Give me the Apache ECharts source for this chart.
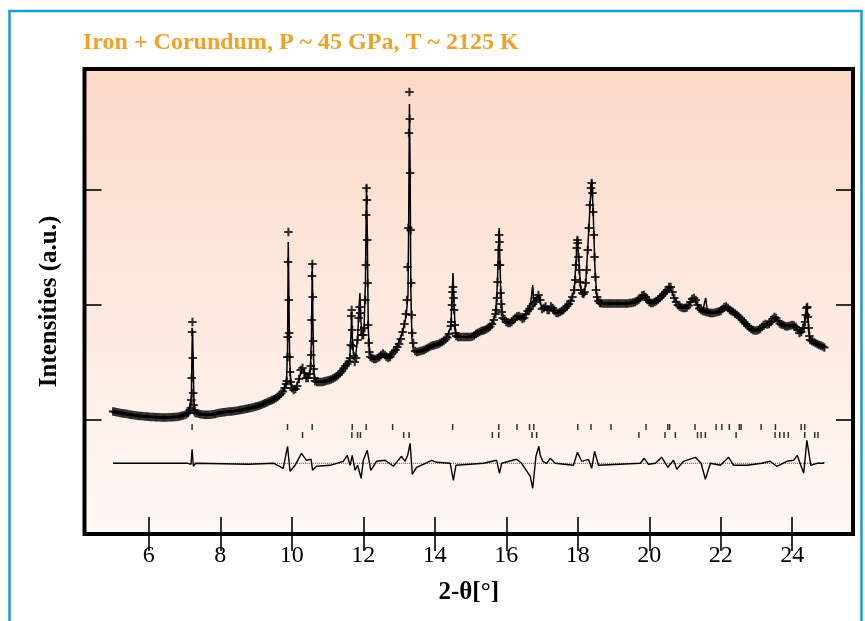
<!DOCTYPE html>
<html>
<head>
<meta charset="utf-8">
<title>Iron + Corundum, P ~ 45 GPa, T ~ 2125 K</title>
<script src="https://cdn.jsdelivr.net/npm/echarts@6.0.0/dist/echarts.min.js"></script>
<style>
  html, body { margin: 0; padding: 0; background: #fff; }
  #chart { width: 865px; height: 621px; }
</style>
</head>
<body>
<div id="chart"></div>
<script>
// observed profile, [2-theta, intensity a.u.]
const obsPoints = [
  [5.00,122.5],[5.05,122.2],[5.10,121.8],[5.15,121.5],[5.20,121.1],[5.25,120.8],[5.30,120.5],[5.35,120.2],[5.40,119.9],[5.45,119.6],
  [5.50,119.3],[5.55,119.0],[5.60,118.8],[5.65,118.5],[5.70,118.3],[5.75,118.1],[5.80,117.9],[5.85,117.7],[5.90,117.5],[5.95,117.4],
  [6.00,117.2],[6.05,117.1],[6.10,117.0],[6.15,116.9],[6.20,116.8],[6.25,116.7],[6.30,116.7],[6.35,116.6],[6.40,116.6],[6.45,116.6],
  [6.50,116.6],[6.55,116.7],[6.60,116.7],[6.65,116.8],[6.70,117.0],[6.75,117.1],[6.80,117.3],[6.85,117.6],[6.90,118.0],[6.95,118.4],
  [7.00,119.0],[7.05,119.8],[7.10,121.0],[7.15,124],[7.17,126],[7.19,134],[7.20,156],[7.21,202],[7.22,212],[7.23,176],
  [7.24,141],[7.25,129],[7.27,123],[7.30,121],
  [7.35,120.7],[7.40,120.2],[7.45,119.8],[7.50,119.5],[7.55,119.3],[7.60,119.2],[7.65,119.2],[7.70,119.3],[7.75,119.5],[7.80,119.8],
  [7.85,120.1],[7.90,120.5],[7.95,120.9],[8.00,121.3],[8.05,121.6],[8.10,121.8],[8.15,122.0],[8.20,122.2],[8.25,122.4],[8.30,122.5],
  [8.35,122.7],[8.40,123.0],[8.45,123.3],[8.50,123.6],[8.55,123.9],[8.60,124.2],[8.65,124.5],[8.70,124.9],[8.75,125.3],[8.80,125.7],
  [8.85,126.1],[8.90,126.5],[8.95,126.9],[9.00,127.4],[9.05,128.0],[9.10,128.6],[9.15,129.2],[9.20,130.0],[9.25,130.8],[9.30,131.6],
  [9.35,132.4],[9.40,133.2],[9.45,134.0],[9.50,134.8],[9.55,135.8],[9.60,137.0],[9.65,138.5],[9.70,140.2],[9.75,142.5],[9.80,146],
  [9.84,150],[9.86,153],[9.875,177],[9.885,197],[9.895,272],[9.905,302],[9.915,234],[9.925,201],[9.935,177],[9.95,162],[9.97,152],
  [10.00,146],[10.05,144],[10.10,145],[10.15,148],[10.20,155],[10.25,164],[10.30,166],[10.35,161],[10.40,156],[10.45,156],[10.50,160],
  [10.53,168],[10.545,179],[10.555,214],[10.565,258],[10.575,270],[10.585,237],[10.595,193],[10.61,165],[10.63,156],
  [10.65,153],[10.70,152],[10.75,152],[10.80,152],[10.85,152],[10.90,152.5],[10.95,153],[11.00,153.5],[11.05,154],[11.10,154.5],
  [11.15,155.5],[11.20,156.5],[11.25,157.5],[11.30,159],[11.35,161],[11.40,163],[11.45,165.5],[11.50,168],[11.55,170],[11.60,172.5],
  [11.63,176],[11.65,189],[11.665,218],[11.675,224],[11.69,204],[11.705,188],[11.73,178],[11.76,172],[11.80,176],[11.84,194],
  [11.87,216],[11.895,227],[11.915,221],[11.94,204],[11.97,199],[12.00,199],[12.03,206],[12.055,234],[12.07,269],[12.08,319],
  [12.09,346],[12.10,334],[12.11,294],[12.12,251],[12.135,209],[12.15,191],[12.17,182],[12.20,177],
  [12.25,176],[12.30,175],[12.35,175],[12.40,176],[12.45,177],[12.50,179],[12.55,180.5],[12.60,179],[12.65,177],[12.70,176],
  [12.75,177],[12.80,180],[12.85,182],[12.90,184],[12.95,187],[13.00,190],[13.05,195],[13.10,202],[13.15,210],[13.19,220],
  [13.22,234],[13.24,267],[13.26,306],[13.275,401],[13.29,442],[13.30,415],[13.31,361],[13.325,304],[13.34,251],[13.355,219],
  [13.37,201],[13.40,191],[13.45,183],[13.50,182],[13.55,182.5],[13.60,183],[13.65,183.5],[13.70,184],[13.75,185],[13.80,186],
  [13.85,187],[13.90,188],[13.95,188.5],[14.00,189],[14.05,189.5],[14.10,190],[14.15,191],[14.20,192],[14.25,193],[14.30,194.5],
  [14.35,196.5],[14.40,200],[14.45,208],[14.46,212],[14.48,229],[14.495,242],[14.51,247],[14.525,236],[14.54,224],[14.56,209],
  [14.58,201],[14.60,198],[14.65,197],[14.70,197],[14.75,197],[14.80,197],[14.85,197],[14.90,197],[14.95,197],[15.00,197],
  [15.05,197.5],[15.10,198.5],[15.15,200],[15.20,201],[15.25,202],[15.30,203],[15.35,203.5],[15.40,204],[15.45,205],[15.50,206],
  [15.55,207.5],[15.60,210],[15.65,214],[15.70,220],[15.72,224],[15.74,236],[15.755,252],[15.77,269],[15.785,284],[15.80,299],
  [15.81,292],[15.825,269],[15.84,241],[15.855,230],[15.87,222],[15.90,216],[15.95,215],[16.00,212],[16.05,211],[16.10,211],
  [16.15,212],[16.20,214],[16.25,216],[16.30,217.5],[16.35,218],[16.40,217],[16.45,215],[16.50,216],[16.55,220],[16.60,223],
  [16.65,225],[16.70,228],[16.75,230],[16.80,232],[16.85,236],[16.90,239],[16.95,234],[17.00,225],[17.05,226],[17.10,227.5],
  [17.15,224],[17.20,224],[17.25,227.5],[17.30,226],[17.35,223],[17.40,221],[17.45,221],[17.50,222],[17.55,223],[17.60,224],
  [17.65,226],[17.70,228],[17.75,230],[17.80,233],[17.85,237],[17.90,244],[17.93,254],[17.95,269],[17.97,286],[17.99,294],
  [18.00,291],[18.02,277],[18.04,264],[18.06,252],[18.09,244],[18.13,241],[18.16,240],[18.19,242],[18.22,251],[18.25,264],
  [18.28,284],[18.31,306],[18.34,329],[18.37,346],[18.39,351],[18.41,341],[18.43,322],[18.45,299],[18.47,277],[18.49,257],
  [18.51,244],[18.54,237],[18.58,233],[18.62,231],[18.65,231],[18.70,230.5],[18.75,230.5],[18.80,230.5],[18.85,230.5],[18.90,230.5],
  [18.95,230.5],[19.00,230.5],[19.05,230.5],[19.10,230.5],[19.15,230.5],[19.20,230.5],[19.25,230.5],[19.30,230.5],[19.35,230.5],[19.40,230.5],
  [19.45,231],[19.50,231],[19.55,231.5],[19.60,232],[19.65,233],[19.70,234],[19.75,236],[19.80,238.5],[19.85,239],[19.90,237],
  [19.95,234],[20.00,232],[20.05,231],[20.10,231],[20.15,232],[20.20,233],[20.25,234.5],[20.30,236],[20.35,238],[20.40,240],
  [20.45,242],[20.50,244],[20.55,247],[20.60,247],[20.65,242],[20.70,236],[20.75,232],[20.80,229],[20.85,227.5],[20.90,226.5],
  [20.95,226],[21.00,226],[21.05,226.5],[21.10,228.5],[21.15,232],[21.20,235],[21.25,236],[21.30,234],[21.35,229],[21.40,225.5],
  [21.45,224],[21.50,223],[21.55,222.5],[21.60,222],[21.65,221.5],[21.70,221],[21.75,221],[21.80,221],[21.85,221.5],[21.90,222],
  [21.95,222.5],[22.00,223],[22.05,225],[22.10,227],[22.15,227.5],[22.20,226],[22.25,224],[22.30,223],[22.35,222],[22.40,220.5],
  [22.45,219],[22.50,217.5],[22.55,216],[22.60,214],[22.65,212],[22.70,210],[22.75,208],[22.80,206.5],[22.85,205],[22.90,204],
  [22.95,203.5],[23.00,203.5],[23.05,204],[23.10,205],[23.15,207],[23.20,209],[23.25,210],[23.30,209.5],[23.35,210],[23.40,212],
  [23.45,215],[23.50,217],[23.55,216],[23.60,213],[23.65,210.5],[23.70,209.5],[23.75,209],[23.80,208],[23.85,207.5],[23.90,208],
  [23.95,208.5],[24.00,209],[24.05,208.5],[24.10,207],[24.15,204],[24.20,201],[24.25,202],[24.30,206],[24.33,206],[24.36,212],
  [24.38,219],[24.40,226],[24.42,227],[24.44,217],[24.46,206],[24.48,198],[24.50,194],[24.55,193],[24.60,192],[24.65,191],
  [24.70,190],[24.75,189],[24.80,188.5],[24.85,187.5],[24.90,186.5]
]

// calculated profile
const calcPoints = [
  [5.0,122.5],[5.2,121.1],[5.4,119.9],[5.6,118.8],[5.8,117.9],[6.0,117.2],[6.2,116.8],[6.4,116.6],[6.6,116.7],[6.8,117.3],
  [7.0,119.0],[7.1,121],[7.15,123],[7.19,136],[7.21,189],[7.222,205],[7.235,184],[7.26,134],[7.30,121],[7.4,120.2],
  [7.6,119.2],[7.8,119.8],[8.0,121.3],[8.2,122.2],[8.4,123.0],[8.6,124.2],[8.8,125.7],[9.0,127.4],[9.2,130.0],[9.4,133.2],
  [9.6,137.0],[9.75,142.5],[9.85,151],[9.88,184],[9.90,292],[9.92,234],[9.94,174],[9.97,152],[10.0,146],[10.1,145],
  [10.2,155],[10.3,166],[10.4,156],[10.5,160],[10.52,163],[10.55,199],[10.572,271],[10.59,214],[10.62,159],[10.7,152],
  [10.9,152.5],[11.1,154.5],[11.3,159],[11.5,168],[11.62,174],[11.66,204],[11.675,222],[11.69,199],[11.72,182],[11.78,176],
  [11.84,196],[11.88,224],[11.905,241],[11.93,214],[11.97,198],[12.02,204],[12.06,254],[12.09,349],[12.11,304],[12.14,204],
  [12.18,180],[12.3,175],[12.5,179],[12.7,176],[12.9,184],[13.1,202],[13.2,218],[13.25,239],[13.27,314],[13.29,430],
  [13.31,364],[13.33,244],[13.36,196],[13.40,184],[13.5,182],[13.7,184],[13.9,188],[14.1,190],[14.3,194.5],[14.45,207],
  [14.49,244],[14.51,261],[14.53,239],[14.57,204],[14.62,197],[14.8,197],[15.0,197],[15.2,201],[15.4,204],[15.6,210],
  [15.70,220],[15.75,249],[15.80,306],[15.84,249],[15.90,216],[16.0,212],[16.2,214],[16.4,217],[16.55,220],[16.65,226],
  [16.70,236],[16.74,249],[16.77,232],[16.82,232],[16.90,239],[17.0,225],[17.1,227.5],[17.2,224],[17.3,226],[17.4,221],
  [17.6,224],[17.8,233],[17.90,244],[17.95,272],[17.99,297],[18.03,274],[18.08,246],[18.15,238],[18.22,249],[18.30,299],
  [18.36,339],[18.39,354],[18.43,324],[18.48,266],[18.53,239],[18.60,232],[18.8,230.5],[19.0,230.5],[19.2,230.5],[19.4,230.5],
  [19.6,232],[19.75,236],[19.85,239],[19.95,234],[20.1,231],[20.3,236],[20.45,242],[20.57,248],[20.7,236],[20.9,226.5],
  [21.1,228.5],[21.25,236],[21.4,225.5],[21.50,223],[21.55,232],[21.58,236],[21.62,224],[21.8,221],[22.0,223],[22.13,228],
  [22.3,223],[22.5,217.5],[22.7,210],[22.9,204],[23.1,205],[23.3,209.5],[23.5,217],[23.7,209.5],[23.9,208],[24.1,207],
  [24.2,201],[24.32,206],[24.38,222],[24.41,228],[24.44,215],[24.48,198],[24.6,192],[24.8,188.5],[24.9,186.5]
]

// difference (obs - calc), drawn around diffBase
const diffBase = 70.7
const diffPoints = [
  [5.00,0],[7.09,0],[7.18,-1],[7.21,14],[7.245,-3],[7.31,0],[8.8,-1],[9.5,0],[9.76,-5],[9.88,17],
  [9.95,-8],[10.09,-2],[10.27,10],[10.41,3],[10.54,4],[10.58,-7],[10.69,-3],[11.07,-2],[11.44,2],[11.55,8],
  [11.63,-2],[11.69,8],[11.77,-7],[11.84,-2],[11.94,-15],[12.00,3],[12.11,13],[12.21,-7],[12.37,2],[12.61,3],
  [12.84,-3],[13.07,7],[13.17,2],[13.24,8],[13.31,20],[13.37,-11],[13.49,-4],[13.68,-1],[13.91,3],[14.05,1],
  [14.43,0],[14.48,-2],[14.52,-17],[14.59,-2],[15.36,0],[15.73,3],[15.81,-10],[15.87,0],[16.29,4],[16.43,0],
  [16.67,-13],[16.74,-25],[16.83,7],[16.91,17],[16.95,8],[17.02,2],[17.13,0],[17.23,5],[17.37,0],[17.88,-2],
  [17.99,11],[18.11,2],[18.30,4],[18.39,-5],[18.47,12],[18.58,-2],[19.75,0],[19.86,5],[19.98,-1],[20.17,0],
  [20.35,6],[20.52,-4],[20.68,3],[20.77,-6],[20.96,2],[21.29,6],[21.45,0],[21.57,-16],[21.71,0],[21.99,-2],
  [22.22,6],[22.36,-2],[22.73,-2],[23.15,0],[23.38,2],[23.57,-3],[23.85,2],[24.04,3],[24.14,8],[24.32,-10],
  [24.41,23],[24.52,-2],[24.69,0],[24.85,0],[24.90,1]
]

// reflection positions of the two phases
const phase1Ticks = [7.21, 9.88, 10.57, 11.69, 12.08, 12.82, 14.50, 15.79, 16.30, 16.65, 16.77, 18.00, 18.37, 18.93,
  19.91, 20.52, 20.57, 21.28, 21.87, 22.03, 22.24, 22.52, 22.57, 23.13, 23.53, 24.25, 24.35]
const phase2Ticks = [10.30, 11.68, 11.84, 11.92, 13.13, 13.28, 15.61, 15.79, 16.72, 16.85, 19.71, 20.44, 20.73,
  21.35, 21.45, 21.57, 22.43, 23.52, 23.65, 23.77, 23.89, 24.35, 24.63, 24.72]
const phase1Level = 107
const phase2Level = 99

const xTicks = [6, 8, 10, 12, 14, 16, 18, 20, 22, 24]
const yTicks = [114, 229, 344]

const serif = "'Liberation Serif', 'Times New Roman', serif"
// plus marker for the observed points
const plusSymbol = 'path://M0,3.4H9V5.6H0ZM3.4,0H5.6V9H3.4Z'

const tickStyle = { color: '#000', width: 1.6 }

function xAxisDef(pos, withLabels) {
  return {
    type: 'value',
    position: pos,
    min: 4.2,
    max: 25.7,
    axisLine: { show: false },
    splitLine: { show: false },
    axisTick: { inside: true, length: 17, customValues: xTicks, lineStyle: tickStyle },
    axisLabel: withLabels
      ? { customValues: xTicks, margin: 10, fontFamily: serif, fontSize: 24, color: '#000' }
      : { show: false }
  }
}

function yAxisDef(pos) {
  return {
    type: 'value',
    position: pos,
    min: 0,
    max: 465,
    axisLine: { show: false },
    splitLine: { show: false },
    axisTick: { inside: true, length: 17, customValues: yTicks, lineStyle: tickStyle },
    axisLabel: { show: false }
  }
}

const chart = echarts.init(document.getElementById('chart'))

const xBottom = xAxisDef('bottom', true)
xBottom.name = '2-θ[°]'
xBottom.nameLocation = 'middle'
xBottom.nameGap = 46
xBottom.nameTextStyle = { fontFamily: serif, fontWeight: 'bold', fontSize: 25, color: '#000' }

const yLeft = yAxisDef('left')
yLeft.name = 'Intensities (a.u.)'
yLeft.nameLocation = 'middle'
yLeft.nameGap = 22
yLeft.nameTextStyle = { fontFamily: serif, fontWeight: 'bold', fontSize: 25, color: '#000' }

chart.setOption({
  animation: false,
  backgroundColor: '#fff',
  title: {
    text: 'Iron + Corundum, P ~ 45 GPa, T ~ 2125 K',
    left: 83,
    top: 31,
    padding: 0,
    textStyle: { fontFamily: serif, fontWeight: 'bold', fontSize: 24, color: '#F0A128' }
  },
  graphic: [{
    type: 'rect',
    silent: true,
    shape: { x: 9.5, y: 11, width: 852, height: 700 },
    style: { fill: 'none', stroke: '#1E9AD6', lineWidth: 2.5 }
  }],
  grid: {
    left: 84.5,
    right: 12,
    top: 69,
    bottom: 87,
    show: true,
    borderColor: '#000',
    borderWidth: 4,
    backgroundColor: {
      type: 'linear', x: 0, y: 0, x2: 0, y2: 1,
      colorStops: [
        { offset: 0, color: '#FBD9C6' },
        { offset: 0.5, color: '#FDE9DF' },
        { offset: 1, color: '#FFF9F7' }
      ]
    }
  },
  xAxis: [xBottom, xAxisDef('top', false)],
  yAxis: [yLeft, yAxisDef('right')],
  series: [
    {
      name: 'observed',
      type: 'scatter',
      silent: true,
      symbol: plusSymbol,
      symbolSize: 8.5,
      itemStyle: { color: '#000' },
      data: obsPoints
    },
    {
      name: 'calculated',
      type: 'line',
      silent: true,
      showSymbol: false,
      lineStyle: { color: '#000', width: 1.5 },
      data: calcPoints
    },
    {
      name: 'phase 1',
      type: 'scatter',
      silent: true,
      symbol: 'rect',
      symbolSize: [1.5, 6],
      itemStyle: { color: '#000' },
      data: phase1Ticks.map(t => [t, phase1Level])
    },
    {
      name: 'phase 2',
      type: 'scatter',
      silent: true,
      symbol: 'rect',
      symbolSize: [1.5, 6],
      itemStyle: { color: '#000' },
      data: phase2Ticks.map(t => [t, phase2Level])
    },
    {
      name: 'zero',
      type: 'line',
      silent: true,
      showSymbol: false,
      lineStyle: { color: '#444', width: 1, type: 'dotted' },
      data: [[diffPoints[0][0], diffBase], [diffPoints[diffPoints.length - 1][0], diffBase]]
    },
    {
      name: 'difference',
      type: 'line',
      silent: true,
      showSymbol: false,
      lineStyle: { color: '#000', width: 1.4 },
      data: diffPoints.map(p => [p[0], p[1] + diffBase])
    }
  ]
})
</script>
</body>
</html>
